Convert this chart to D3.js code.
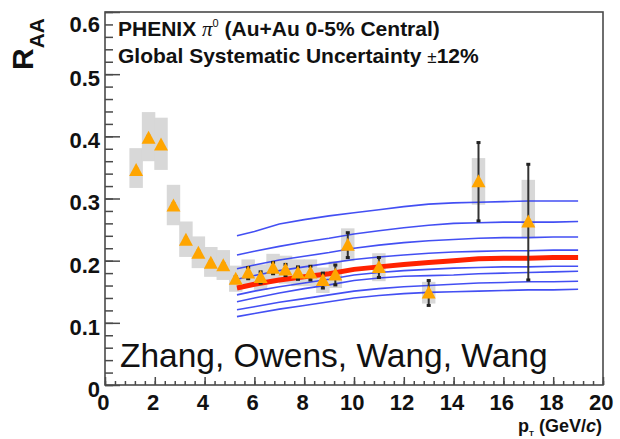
<!DOCTYPE html>
<html>
<head>
<meta charset="utf-8">
<script src="https://cdn.jsdelivr.net/npm/d3@7"></script>
<style>
  html, body { margin: 0; padding: 0; background: #fff; }
  svg { display: block; font-family: "Liberation Sans", Arial, Helvetica, sans-serif; }
</style>
</head>
<body>
<svg id="chart" width="620" height="439"></svg>
<script>
// PHENIX pi0 R_AA, Au+Au 0-5% central
const ptBins  = [1.25, 1.75, 2.25, 2.75, 3.25, 3.75, 4.25, 4.75, 5.25, 5.75, 6.25, 6.75, 7.25, 7.75, 8.25, 8.75, 9.25, 9.75, 11, 13, 15, 17];
const raa     = [0.345, 0.397, 0.386, 0.288, 0.233, 0.212, 0.196, 0.192, 0.170, 0.180, 0.173, 0.188, 0.185, 0.180, 0.180, 0.168, 0.177, 0.225, 0.189, 0.148, 0.327, 0.262];
const statErr = [0.003, 0.003, 0.003, 0.003, 0.003, 0.003, 0.003, 0.003, 0.004, 0.009, 0.009, 0.009, 0.009, 0.010, 0.011, 0.012, 0.016, 0.020, 0.016, 0.020, 0.063, 0.093];
const sysLo   = [0.317, 0.360, 0.346, 0.257, 0.206, 0.188, 0.174, 0.169, 0.150, 0.159, 0.153, 0.166, 0.163, 0.159, 0.159, 0.148, 0.156, 0.199, 0.167, 0.131, 0.290, 0.238];
const sysHi   = [0.381, 0.439, 0.430, 0.322, 0.263, 0.239, 0.222, 0.217, 0.192, 0.202, 0.194, 0.211, 0.208, 0.202, 0.202, 0.189, 0.199, 0.252, 0.212, 0.166, 0.365, 0.330];

// Zhang-Owens-Wang-Wang calculations (range of energy-loss parameters)
const theoryPt = [5.3, 6, 7, 8, 9, 10, 11, 12, 13, 14, 15, 16, 17, 18, 19];
const theoryBlue1 = [0.240, 0.247, 0.259, 0.266, 0.272, 0.277, 0.282, 0.287, 0.291, 0.293, 0.294, 0.295, 0.296, 0.296, 0.296];
const theoryBlue2 = [0.209, 0.215, 0.223, 0.230, 0.236, 0.243, 0.248, 0.253, 0.257, 0.260, 0.261, 0.262, 0.262, 0.262, 0.263];
const theoryBlue3 = [0.187, 0.193, 0.201, 0.207, 0.213, 0.220, 0.225, 0.229, 0.232, 0.234, 0.236, 0.237, 0.237, 0.238, 0.238];
const theoryBlue4 = [0.170, 0.176, 0.184, 0.190, 0.196, 0.202, 0.206, 0.209, 0.212, 0.214, 0.215, 0.216, 0.216, 0.217, 0.217];
const theoryBest  = [0.156, 0.162, 0.169, 0.174, 0.179, 0.186, 0.190, 0.194, 0.197, 0.200, 0.203, 0.204, 0.204, 0.205, 0.205];
const theoryBlue6 = [0.145, 0.151, 0.158, 0.164, 0.170, 0.177, 0.181, 0.184, 0.186, 0.188, 0.189, 0.190, 0.190, 0.191, 0.191];
const theoryBlue7 = [0.134, 0.140, 0.148, 0.155, 0.161, 0.168, 0.172, 0.175, 0.176, 0.177, 0.179, 0.180, 0.181, 0.182, 0.183];
const theoryBlue8 = [0.121, 0.126, 0.133, 0.139, 0.145, 0.151, 0.155, 0.158, 0.160, 0.162, 0.164, 0.165, 0.166, 0.166, 0.167];
const theoryBlue9 = [0.110, 0.115, 0.122, 0.128, 0.134, 0.140, 0.144, 0.147, 0.149, 0.150, 0.151, 0.152, 0.153, 0.153, 0.154];

const xTicks = [0, 2, 4, 6, 8, 10, 12, 14, 16, 18, 20];
const yTicks = [0, 0.1, 0.2, 0.3, 0.4, 0.5, 0.6];
const yTickLabels = ["0", "0.1", "0.2", "0.3", "0.4", "0.5", "0.6"];

const svg = d3.select("#chart");
const frame = { left: 105, right: 603, top: 12, bottom: 385 };

const x = d3.scaleLinear().domain([0, 20]).range([frame.left, frame.right]);
const y = d3.scaleLinear().domain([0, 0.6]).range([frame.bottom, frame.top]);

const axisColor = "#4a4a4a";

// frame
svg.append("rect")
  .attr("x", frame.left).attr("y", frame.top)
  .attr("width", frame.right - frame.left).attr("height", frame.bottom - frame.top)
  .attr("fill", "none").attr("stroke", axisColor).attr("stroke-width", 1.6);

// x axis: ticks point inward
const xMinor = d3.range(0, 20.001, 0.4);
const gxMinor = svg.append("g").attr("transform", `translate(0,${frame.bottom})`)
  .call(d3.axisBottom(x).tickValues(xMinor).tickSize(-4).tickFormat(""));
const gx = svg.append("g").attr("transform", `translate(0,${frame.bottom})`)
  .call(d3.axisBottom(x).tickValues(xTicks).tickSize(-8).tickPadding(9).tickFormat(d3.format("d")));

// y axis
const yMinor = d3.range(0, 0.6001, 0.02);
const gyMinor = svg.append("g").attr("transform", `translate(${frame.left},0)`)
  .call(d3.axisLeft(y).tickValues(yMinor).tickSize(-8).tickFormat(""));
const gy = svg.append("g").attr("transform", `translate(${frame.left},0)`)
  .call(d3.axisLeft(y).tickValues(yTicks).tickSize(-15).tickPadding(5)
    .tickFormat((d, i) => yTickLabels[i]));

[gxMinor, gx, gyMinor, gy].forEach(g => {
  g.select(".domain").remove();
  g.selectAll(".tick line").attr("stroke", axisColor).attr("stroke-width", 1.5);
  g.selectAll(".tick text")
    .attr("font-family", '"Liberation Sans", Arial, sans-serif')
    .attr("font-size", 22).attr("font-weight", "bold").attr("fill", "#111");
});
gx.selectAll(".tick text").attr("dx", "-0.1em");
gy.selectAll(".tick text").attr("dy", "0.52em");
// keep the topmost label inside the frame height
gy.selectAll(".tick text").filter(d => y(d) - frame.top < 6).attr("dy", "0.9em");

// systematic boxes
const idx = d3.range(ptBins.length);
svg.append("g").selectAll("rect").data(idx).join("rect")
  .attr("x", i => x(ptBins[i] - 0.27))
  .attr("width", i => x(ptBins[i] + 0.27) - x(ptBins[i] - 0.27))
  .attr("y", i => y(sysHi[i]))
  .attr("height", i => y(sysLo[i]) - y(sysHi[i]))
  .attr("fill", "#d8d8d8");

// theory curves
const line = d3.line().x((d, i) => x(theoryPt[i])).y(d => y(d));
const blueCurves = [theoryBlue1, theoryBlue2, theoryBlue3, theoryBlue4, theoryBlue6, theoryBlue7, theoryBlue8, theoryBlue9];
svg.append("g").selectAll("path").data(blueCurves).join("path")
  .attr("d", line)
  .attr("fill", "none").attr("stroke", "#2f3cf2").attr("stroke-width", 1.6).attr("stroke-opacity", 0.9);
svg.append("path").datum(theoryBest)
  .attr("d", line)
  .attr("fill", "none").attr("stroke", "#ff2200").attr("stroke-width", 5);

// statistical error bars
const eb = svg.append("g");
eb.selectAll("line").data(idx).join("line")
  .attr("x1", i => x(ptBins[i])).attr("x2", i => x(ptBins[i]))
  .attr("y1", i => y(raa[i] - statErr[i])).attr("y2", i => y(raa[i] + statErr[i]))
  .attr("stroke", "#333").attr("stroke-width", 2);
eb.selectAll("rect.cap").data(idx.flatMap(i => [[i, -1], [i, 1]])).join("rect")
  .attr("class", "cap")
  .attr("x", d => x(ptBins[d[0]]) - 2)
  .attr("y", d => y(raa[d[0]] + d[1] * statErr[d[0]]) - 1.5)
  .attr("width", 4).attr("height", 3)
  .attr("fill", "#222");

// data markers
const tri = "M0,-7.5L7,5.5L-7,5.5Z";
svg.append("g").selectAll("path").data(idx).join("path")
  .attr("d", tri)
  .attr("transform", i => `translate(${x(ptBins[i])},${y(raa[i])})`)
  .attr("fill", "#ffa500");

// y title
const yt = svg.append("text")
  .attr("transform", "translate(33,70) rotate(-90)")
  .attr("font-weight", "bold").attr("fill", "#111");
yt.append("tspan").attr("font-size", 30).text("R");
yt.append("tspan").attr("font-size", 21).attr("dy", 11).text("AA");

// x title
const xt = svg.append("text")
  .attr("x", 602).attr("y", 432).attr("text-anchor", "end")
  .attr("font-size", 18).attr("font-weight", "bold").attr("fill", "#111");
xt.append("tspan").text("p");
xt.append("tspan").attr("font-size", 8).attr("dy", 4).text("T");
xt.append("tspan").attr("dy", -4).text(" (GeV/");
xt.append("tspan").attr("font-style", "italic").text("c");
xt.append("tspan").text(")");

// header
const h1 = svg.append("text").attr("x", 118).attr("y", 36)
  .attr("font-size", 21).attr("font-weight", "bold").attr("fill", "#111");
h1.append("tspan").text("PHENIX ");
h1.append("tspan").attr("font-family", '"Liberation Serif", serif').attr("font-weight", "normal").attr("font-style", "italic").text("π");
h1.append("tspan").attr("font-size", 11).attr("font-weight", "normal").attr("dy", -9).text("0");
h1.append("tspan").attr("dy", 9).text(" (Au+Au 0-5% Central)");

const h2 = svg.append("text").attr("x", 118).attr("y", 63)
  .attr("font-size", 21).attr("font-weight", "bold").attr("fill", "#111");
h2.append("tspan").text("Global Systematic Uncertainty ");
h2.append("tspan").attr("font-weight", "normal").attr("font-size", 17).text("±");
h2.append("tspan").text("12%");

// model label
svg.append("text").attr("x", 120).attr("y", 367)
  .attr("font-size", 33.5).attr("fill", "#111")
  .text("Zhang, Owens, Wang, Wang");
</script>
</body>
</html>
